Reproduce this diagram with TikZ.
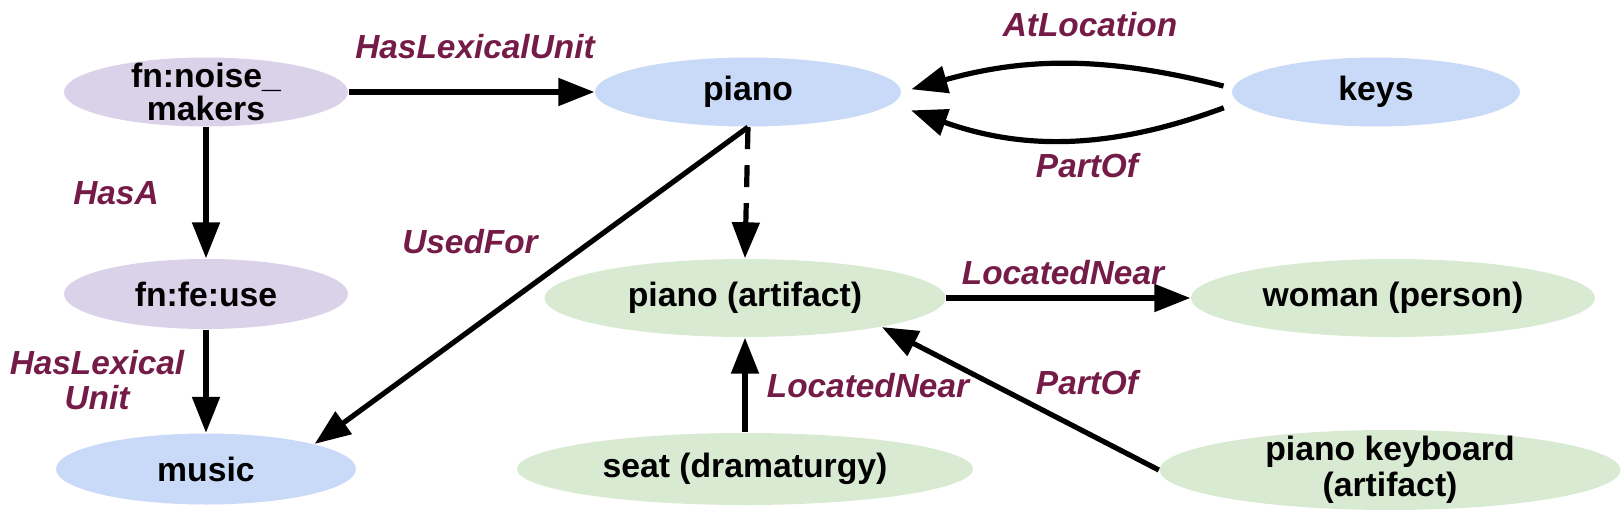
\documentclass[tikz,border=0pt]{standalone}
\usepackage{fontspec}
\setmainfont{Liberation Sans}
\usetikzlibrary{shapes.geometric,arrows.meta,positioning}
\definecolor{framepurple}{HTML}{D9D2E9}
\definecolor{wordblue}{HTML}{C9DAF8}
\definecolor{sensegreen}{HTML}{D9EAD3}
\definecolor{relred}{HTML}{741B47}

\begin{document}
\begin{tikzpicture}[
  concept/.style={ellipse, inner sep=0pt, align=center,
                  font=\fontsize{9.6}{9.6}\selectfont\bfseries},
  frame/.style={concept, fill=framepurple},
  word/.style={concept, fill=wordblue},
  sense/.style={concept, fill=sensegreen},
  twoline/.style={inner ysep=-0.07cm},
  rel/.style={-{Triangle[length=0.36cm, width=0.27cm]}, line width=0.052cm},
  lab/.style={font=\fontsize{9.5}{10}\selectfont\bfseries\itshape, text=relred,
              align=center, inner sep=0pt}
]
\useasboundingbox (0,0) rectangle (16.24,-5.28);

\node[frame, twoline, minimum width=2.84cm, minimum height=0.69cm,
      font=\fontsize{9.6}{9.2}\selectfont\bfseries] (noise) at (2.06,-0.92) {fn:noise\_\\makers};
\node[word, minimum width=3.06cm, minimum height=0.69cm] (piano) at (7.48,-0.92) {piano};
\node[word, minimum width=2.88cm, minimum height=0.69cm] (keys) at (13.76,-0.92) {keys};
\node[frame, minimum width=2.84cm, minimum height=0.70cm] (feuse) at (2.06,-2.94) {fn:fe:use};
\node[word, minimum width=3.00cm, minimum height=0.71cm] (music) at (2.06,-4.69) {music};
\node[sense, minimum width=4.01cm, minimum height=0.78cm] (pianoart) at (7.45,-2.98) {piano (artifact)};
\node[sense, minimum width=4.04cm, minimum height=0.78cm] (woman) at (13.93,-2.98) {woman (person)};
\node[sense, minimum width=4.56cm, minimum height=0.72cm] (seat) at (7.45,-4.69) {seat (dramaturgy)};
\node[sense, twoline, minimum width=4.61cm, minimum height=0.80cm,
      font=\fontsize{9.6}{10.2}\selectfont\bfseries] (keyboard) at (13.90,-4.70) {piano keyboard\\(artifact)};

\draw[rel] (noise.east) -- (piano.west);
\draw[rel] (noise.south) -- (feuse.north);
\draw[rel] (feuse.south) -- (music.north);
\draw[rel] (piano.south) -- (music.13);
\draw[rel, dash pattern=on 0.22cm off 0.16cm] (piano.south) -- (pianoart.north);
\draw[rel, shorten <=0.08cm, shorten >=0.1cm] ([yshift=0.04cm]keys.west) to[bend right=15] (piano.east);
\draw[rel, shorten <=0.08cm, shorten >=0.1cm] ([yshift=-0.13cm]keys.west) to[bend left=20] ([yshift=-0.15cm]piano.east);
\draw[rel] (pianoart.east) -- (woman.west);
\draw[rel] (seat.north) -- (pianoart.south);
\draw[rel] (keyboard.west) -- (pianoart.-12);

\node[lab] at (4.75,-0.47) {HasLexicalUnit};
\node[lab] at (10.90,-0.25) {AtLocation};
\node[lab] at (10.87,-1.66) {PartOf};
\node[lab] at (1.16,-1.93) {HasA};
\node[lab] at (4.70,-2.42) {UsedFor};
\node[lab] at (0.97,-3.80) {HasLexical\\Unit};
\node[lab] at (10.63,-2.73) {LocatedNear};
\node[lab] at (8.68,-3.86) {LocatedNear};
\node[lab] at (10.87,-3.83) {PartOf};
\end{tikzpicture}
\end{document}
